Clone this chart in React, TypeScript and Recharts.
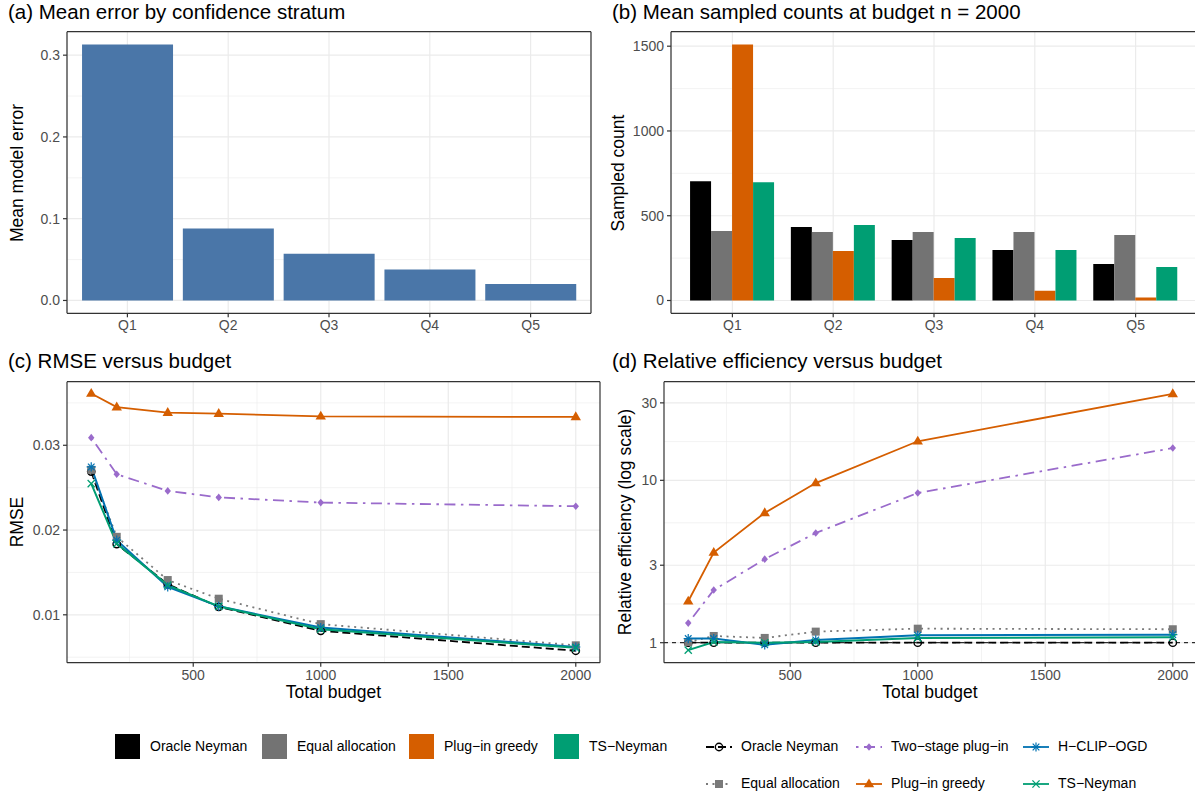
import React from 'react'
import { BarChart, Bar, LineChart, Line, XAxis, YAxis, CartesianGrid, ReferenceLine } from 'recharts'

// panel (a)
const strata = ['Q1', 'Q2', 'Q3', 'Q4', 'Q5']
const meanError = [0.313, 0.088, 0.057, 0.038, 0.02]

// panel (b) sampled counts at n = 2000
const countOracle = [704, 433, 357, 298, 216]
const countEqual = [410, 404, 404, 404, 386]
const countGreedy = [1510, 292, 133, 57, 18]
const countTS = [698, 445, 369, 298, 198]

// panels (c) and (d)
const budgets = [100, 200, 400, 600, 1000, 2000]

const rmseOracle = [0.0269, 0.01835, 0.0136, 0.01094, 0.00811, 0.00576]
const rmseEqual = [0.0271, 0.0192, 0.0141, 0.0119, 0.0089, 0.0064]
const rmseTwoStage = [0.0309, 0.02658, 0.02462, 0.02385, 0.02324, 0.02281]
const rmseGreedy = [0.0361, 0.0345, 0.03385, 0.03373, 0.03342, 0.03334]
const rmseHclip = [0.02745, 0.0188, 0.0133, 0.011, 0.0085, 0.0062]
const rmseTS = [0.02548, 0.0184, 0.0135, 0.011, 0.0083, 0.0061]

const reOracle = [1, 1, 1, 1, 1, 1]
const reEqual = [1.01, 1.1, 1.07, 1.17, 1.22, 1.21]
const reTwoStage = [1.32, 2.11, 3.27, 4.74, 8.36, 15.8]
const reGreedy = [1.8, 3.59, 6.3, 9.62, 17.4, 34.1]
const reHclip = [1.06, 1.06, 0.97, 1.04, 1.11, 1.12]
const reTS = [0.9, 1.01, 1.0, 1.01, 1.07, 1.08]

const errTicks = [0, 0.1, 0.2, 0.3]
const errMinor = [0.05, 0.15, 0.25]
const countTicks = [0, 500, 1000, 1500]
const countMinor = [250, 750, 1250]
const budgetTicks = [500, 1000, 1500, 2000]
const budgetMinor = [250, 750, 1250, 1750]
const rmseTicks = [0.01, 0.02, 0.03]
const rmseMinor = [0.005, 0.015, 0.025, 0.035]
const reTicks = [1, 3, 10, 30]
const reMinor = [1.732, 5.477, 17.32]

const errorRows = strata.map((q, i) => ({ q, err: meanError[i] }))
const countRows = strata.map((q, i) => ({
  q,
  oracle: countOracle[i],
  equal: countEqual[i],
  greedy: countGreedy[i],
  ts: countTS[i]
}))
const rmseRows = budgets.map((b, i) => ({
  budget: b,
  oracle: rmseOracle[i],
  equal: rmseEqual[i],
  twoStage: rmseTwoStage[i],
  greedy: rmseGreedy[i],
  hclip: rmseHclip[i],
  ts: rmseTS[i]
}))
const reRows = budgets.map((b, i) => ({
  budget: b,
  oracle: reOracle[i],
  equal: reEqual[i],
  twoStage: reTwoStage[i],
  greedy: reGreedy[i],
  hclip: reHclip[i],
  ts: reTS[i]
}))

const barSeries = [
  { key: 'oracle', name: 'Oracle Neyman', color: '#000000' },
  { key: 'equal', name: 'Equal allocation', color: '#737373' },
  { key: 'greedy', name: 'Plug\u2212in greedy', color: '#D55E00' },
  { key: 'ts', name: 'TS\u2212Neyman', color: '#009E73' }
]

const lineSeries = [
  { key: 'oracle', name: 'Oracle Neyman', color: '#000000', dash: '8 4', shape: 'circle' },
  { key: 'equal', name: 'Equal allocation', color: '#7A7A7A', dash: '2 4.5', shape: 'square' },
  { key: 'twoStage', name: 'Two\u2212stage plug\u2212in', color: '#9A6BCB', dash: '2.5 5.5 11 5.5', shape: 'diamond' },
  { key: 'greedy', name: 'Plug\u2212in greedy', color: '#D55E00', dash: undefined, shape: 'triangle' },
  { key: 'hclip', name: 'H\u2212CLIP\u2212OGD', color: '#0072B2', dash: undefined, shape: 'asterisk' },
  { key: 'ts', name: 'TS\u2212Neyman', color: '#009E73', dash: undefined, shape: 'cross' }
]

const FONT = '"Liberation Sans", Arial, Helvetica, sans-serif'
const tickStyle = { fontSize: 14, fill: '#4D4D4D', fontFamily: FONT }
const frame = { stroke: '#333333', strokeWidth: 1.2 }

function Marker({ shape, cx, cy, color }: any) {
  if (cx == null || cy == null) return null
  switch (shape) {
    case 'circle':
      return <circle cx={cx} cy={cy} r={3.7} fill="none" stroke={color} strokeWidth={1.4} />
    case 'square':
      return <rect x={cx - 4} y={cy - 4} width={8} height={8} fill={color} />
    case 'diamond':
      return <polygon points={`${cx},${cy - 3.8} ${cx + 3.2},${cy} ${cx},${cy + 3.8} ${cx - 3.2},${cy}`} fill={color} />
    case 'triangle':
      return <polygon points={`${cx},${cy - 5.6} ${cx + 5.2},${cy + 3.3} ${cx - 5.2},${cy + 3.3}`} fill={color} />
    case 'asterisk': {
      const r = 4.6
      const d = r * 0.72
      return (
        <g stroke={color} strokeWidth={1.2}>
          <line x1={cx} y1={cy - r} x2={cx} y2={cy + r} />
          <line x1={cx - r} y1={cy} x2={cx + r} y2={cy} />
          <line x1={cx - d} y1={cy - d} x2={cx + d} y2={cy + d} />
          <line x1={cx - d} y1={cy + d} x2={cx + d} y2={cy - d} />
        </g>
      )
    }
    case 'cross': {
      const d = 3.6
      return (
        <g stroke={color} strokeWidth={1.3}>
          <line x1={cx - d} y1={cy - d} x2={cx + d} y2={cy + d} />
          <line x1={cx - d} y1={cy + d} x2={cx + d} y2={cy - d} />
        </g>
      )
    }
    default:
      return null
  }
}

const Title = ({ left, top, children }: any) => (
  <div style={{ position: 'absolute', left, top, fontSize: 20.5, lineHeight: '24px', whiteSpace: 'nowrap', color: '#000' }}>
    {children}
  </div>
)

const AxisTitle = ({ cx, cy, rotate, children }: any) => (
  <div
    style={{
      position: 'absolute',
      left: cx,
      top: cy,
      fontSize: 17.5,
      lineHeight: '20px',
      whiteSpace: 'nowrap',
      color: '#000',
      transform: `translate(-50%, -50%)${rotate ? ' rotate(-90deg)' : ''}`
    }}
  >
    {children}
  </div>
)

function seriesLines() {
  // lines first, then the points on top, as ggplot layers them
  const lines = lineSeries.map((s) => (
    <Line
      key={'l-' + s.key}
      type="linear"
      dataKey={s.key}
      stroke={s.color}
      strokeWidth={s.key === 'hclip' || s.key === 'ts' ? 2 : 1.8}
      strokeDasharray={s.dash}
      dot={false}
      activeDot={false}
      isAnimationActive={false}
    />
  ))
  const points = lineSeries.map((s) => (
    <Line
      key={'p-' + s.key}
      type="linear"
      dataKey={s.key}
      stroke="none"
      dot={(p: any) => <Marker key={s.key + p.index} shape={s.shape} cx={p.cx} cy={p.cy} color={s.color} />}
      activeDot={false}
      isAnimationActive={false}
    />
  ))
  return [...lines, ...points]
}

// the panel border: mirrored axes on top and right
const topFrame = (key: string, numeric: boolean) =>
  numeric ? (
    <XAxis xAxisId="top" orientation="top" dataKey={key} type="number" domain={[5, 2095]} allowDataOverflow height={1} tick={false} tickLine={false} axisLine={frame} />
  ) : (
    <XAxis xAxisId="top" orientation="top" dataKey={key} height={1} tick={false} tickLine={false} axisLine={frame} />
  )
const rightFrame = () => (
  <YAxis yAxisId="right" orientation="right" type="number" domain={[0, 1]} width={1} tick={false} tickLine={false} axisLine={frame} />
)

function PanelA() {
  return (
    <div style={{ position: 'absolute', left: 0, top: 0 }}>
      <BarChart width={592} height={335.3} data={errorRows} margin={{ top: 30.7, right: 0, bottom: 0, left: 0 }} barCategoryGap="5%">
        <CartesianGrid vertical={false} horizontalValues={errMinor} stroke="#EBEBEB" strokeWidth={0.6} />
        <CartesianGrid stroke="#EBEBEB" strokeWidth={1.2} horizontalValues={errTicks} />
        <XAxis dataKey="q" height={22} padding={{ left: 10, right: 10 }} tickSize={4} tickMargin={3} tick={tickStyle} axisLine={frame} tickLine={frame} />
        {topFrame('q', false)}
        <YAxis type="number" domain={[-0.0157, 0.3287]} ticks={errTicks} allowDataOverflow width={67} tickSize={4} tickMargin={3} tick={tickStyle} tickFormatter={(v: number) => v.toFixed(1)} axisLine={frame} tickLine={frame} />
        {rightFrame()}
        <Bar dataKey="err" fill="#4A76A8" isAnimationActive={false} />
      </BarChart>
    </div>
  )
}

function PanelB() {
  return (
    <div style={{ position: 'absolute', left: 600, top: 0 }}>
      <BarChart width={598} height={335.3} data={countRows} margin={{ top: 30.7, right: 0, bottom: 0, left: 0 }} barCategoryGap="8%" barGap={0}>
        <CartesianGrid vertical={false} horizontalValues={countMinor} stroke="#EBEBEB" strokeWidth={0.6} />
        <CartesianGrid stroke="#EBEBEB" strokeWidth={1.2} horizontalValues={countTicks} />
        <XAxis dataKey="q" height={22} padding={{ left: 11, right: 11 }} tickSize={4} tickMargin={3} tick={tickStyle} axisLine={frame} tickLine={frame} />
        {topFrame('q', false)}
        <YAxis type="number" domain={[-75.5, 1585.5]} ticks={countTicks} allowDataOverflow width={71} tickSize={4} tickMargin={3} tick={tickStyle} axisLine={frame} tickLine={frame} />
        {rightFrame()}
        {barSeries.map((s) => (
          <Bar key={s.key} dataKey={s.key} fill={s.color} isAnimationActive={false} />
        ))}
      </BarChart>
    </div>
  )
}

function PanelC() {
  return (
    <div style={{ position: 'absolute', left: 0, top: 340 }}>
      <LineChart width={601} height={345} data={rmseRows} margin={{ top: 40.7, right: 0, bottom: 0, left: 0 }}>
        <CartesianGrid horizontalValues={rmseMinor} verticalValues={budgetMinor} stroke="#EBEBEB" strokeWidth={0.6} />
        <CartesianGrid horizontalValues={rmseTicks} verticalValues={budgetTicks} stroke="#EBEBEB" strokeWidth={1.2} />
        <XAxis dataKey="budget" type="number" domain={[5, 2095]} ticks={budgetTicks} allowDataOverflow height={22.3} tickSize={4} tickMargin={3} tick={tickStyle} axisLine={frame} tickLine={frame} />
        {topFrame('budget', true)}
        <YAxis type="number" domain={[0.00435, 0.0375]} ticks={rmseTicks} allowDataOverflow width={67} tickSize={4} tickMargin={3} tick={tickStyle} tickFormatter={(v: number) => v.toFixed(2)} axisLine={frame} tickLine={frame} />
        {rightFrame()}
        {seriesLines()}
      </LineChart>
    </div>
  )
}

function PanelD() {
  return (
    <div style={{ position: 'absolute', left: 600, top: 340 }}>
      <LineChart width={598} height={345} data={reRows} margin={{ top: 40.7, right: 0, bottom: 0, left: 0 }}>
        <CartesianGrid horizontalValues={reMinor} verticalValues={budgetMinor} stroke="#EBEBEB" strokeWidth={0.6} />
        <CartesianGrid horizontalValues={reTicks} verticalValues={budgetTicks} stroke="#EBEBEB" strokeWidth={1.2} />
        <XAxis dataKey="budget" type="number" domain={[5, 2095]} ticks={budgetTicks} allowDataOverflow height={22.3} tickSize={4} tickMargin={3} tick={tickStyle} axisLine={frame} tickLine={frame} />
        {topFrame('budget', true)}
        <YAxis type="number" scale="log" domain={[0.753, 40.5]} ticks={reTicks} allowDataOverflow width={64} tickSize={4} tickMargin={3} tick={tickStyle} axisLine={frame} tickLine={frame} />
        {rightFrame()}
        <ReferenceLine y={1} stroke="#000" strokeWidth={1} strokeDasharray="4 4" />
        {seriesLines()}
      </LineChart>
    </div>
  )
}

function LineKey({ s }: any) {
  return (
    <svg width={26} height={20} style={{ display: 'block' }}>
      <line x1={0} y1={10} x2={26} y2={10} stroke={s.color} strokeWidth={1.8} strokeDasharray={s.dash} />
      <Marker shape={s.shape} cx={13} cy={10} color={s.color} />
    </svg>
  )
}

function Legends() {
  const fillX = [115, 262, 409, 554]
  const lineX = [706, 856, 1023]
  const lineOrder = [
    ['oracle', 'twoStage', 'hclip'],
    ['equal', 'greedy', 'ts']
  ]
  return (
    <>
      {barSeries.map((s, i) => (
        <div key={s.key}>
          <div style={{ position: 'absolute', left: fillX[i], top: 734, width: 25, height: 25, background: s.color }} />
          <div style={{ position: 'absolute', left: fillX[i] + 35, top: 738, fontSize: 14, lineHeight: '17px', whiteSpace: 'nowrap' }}>{s.name}</div>
        </div>
      ))}
      {lineOrder.map((row, r) =>
        row.map((k, c) => {
          const s = lineSeries.find((l) => l.key === k)!
          const cy = r === 0 ? 747 : 784
          return (
            <div key={k}>
              <div style={{ position: 'absolute', left: lineX[c], top: cy - 10 }}>
                <LineKey s={s} />
              </div>
              <div style={{ position: 'absolute', left: lineX[c] + 35, top: cy - 9, fontSize: 14, lineHeight: '17px', whiteSpace: 'nowrap' }}>{s.name}</div>
            </div>
          )
        })
      )}
    </>
  )
}

export default function App() {
  return (
    <div style={{ position: 'absolute', left: 0, top: 0, width: 1195, height: 797, overflow: 'hidden', background: '#fff', fontFamily: FONT }}>
      <PanelA />
      <PanelB />
      <PanelC />
      <PanelD />

      <Title left={8} top={0}>(a) Mean error by confidence stratum</Title>
      <Title left={612} top={0}>(b) Mean sampled counts at budget n = 2000</Title>
      <Title left={8} top={349}>(c) RMSE versus budget</Title>
      <Title left={612} top={349}>(d) Relative efficiency versus budget</Title>

      <AxisTitle cx={17} cy={172.5} rotate>Mean model error</AxisTitle>
      <AxisTitle cx={618} cy={172.5} rotate>Sampled count</AxisTitle>
      <AxisTitle cx={17} cy={522} rotate>RMSE</AxisTitle>
      <AxisTitle cx={625} cy={522} rotate>Relative efficiency (log scale)</AxisTitle>
      <AxisTitle cx={333.5} cy={692}>Total budget</AxisTitle>
      <AxisTitle cx={930} cy={692}>Total budget</AxisTitle>

      <Legends />
    </div>
  )
}
